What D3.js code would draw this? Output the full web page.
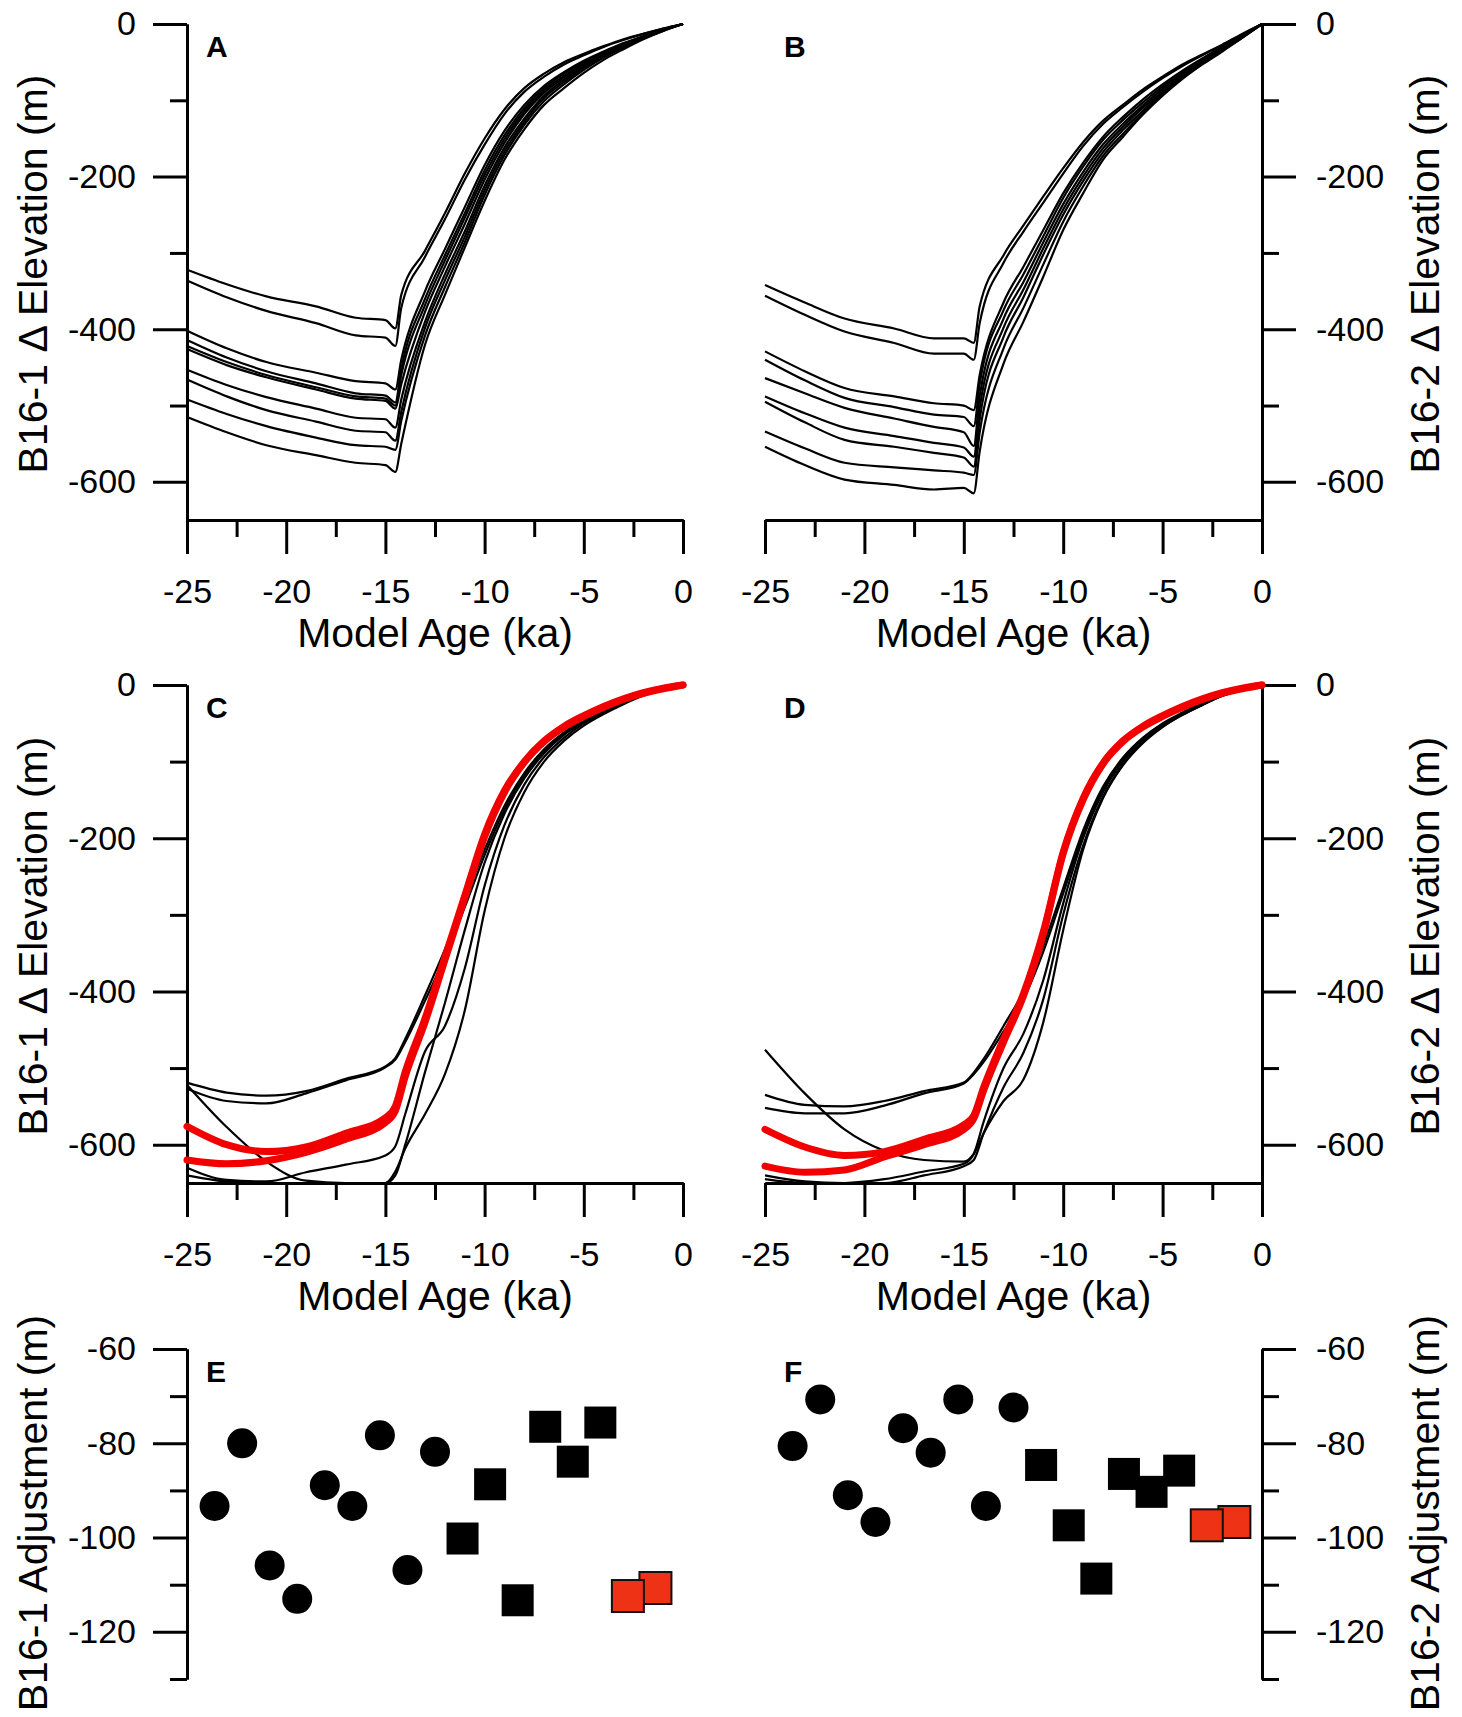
<!DOCTYPE html>
<html>
<head>
<meta charset="utf-8">
<script src="https://cdn.jsdelivr.net/npm/d3@7"></script>
<style>
    body { margin: 0; background: #fff; }
    svg { display: block; }
</style>
</head>
<body>
<svg id="chart" width="1462" height="1717"></svg>
<script>
// ---- tick values ----
const ageTicks = [-25, -20, -15, -10, -5, 0];
const ageMinorTicks = [-22.5, -17.5, -12.5, -7.5, -2.5];
const elevTicks = [0, -200, -400, -600];
const elevMinorTicks = [-100, -300, -500];
const adjTicks = [-60, -80, -100, -120];
const adjMinorTicks = [-70, -90, -110, -130];

// ---- panels A / B : model ages (ka) ----
const agesAB = [-25, -23, -21, -18.5, -16.5, -15, -14.5, -14.2, -13, -12, -11, -10, -9, -8, -7, -6, -5, -4, -3, -2, -1, 0];

// panel A, B16-1 delta elevation (m)
const a1 = [-322, -341, -357, -370, -385, -388, -399, -355, -297, -248, -196, -150, -112, -84, -65, -50, -39, -29, -20, -13, -6, 0];
const a2 = [-336, -358, -376, -392, -408, -411, -422, -372, -305, -256, -204, -158, -118, -89, -69, -53, -41, -30, -21, -13, -6, 0];
const a3 = [-402, -425, -443, -457, -468, -471, -479, -440, -350, -295, -240, -185, -140, -106, -81, -63, -48, -36, -25, -16, -7, 0];
const a4 = [-414, -437, -455, -471, -484, -487, -496, -452, -360, -303, -248, -192, -146, -110, -84, -65, -50, -37, -26, -16, -7, 0];
const a5 = [-422, -443, -460, -476, -488, -491, -500, -460, -368, -310, -254, -198, -151, -114, -87, -68, -52, -38, -27, -17, -8, 0];
const a6 = [-426, -447, -463, -479, -491, -494, -504, -472, -377, -318, -262, -204, -156, -118, -90, -70, -53, -39, -28, -17, -8, 0];
const a7 = [-453, -473, -489, -504, -516, -518, -529, -492, -390, -328, -272, -212, -162, -124, -94, -73, -55, -41, -29, -18, -8, 0];
const a8 = [-466, -488, -506, -521, -533, -535, -546, -508, -398, -336, -279, -218, -167, -128, -97, -76, -57, -42, -30, -19, -8, 0];
const a9 = [-492, -511, -527, -542, -552, -554, -558, -520, -408, -345, -286, -224, -172, -132, -101, -79, -60, -44, -31, -19, -9, 0];
const a10 = [-515, -535, -552, -565, -575, -578, -587, -550, -420, -355, -293, -232, -178, -138, -106, -84, -64, -47, -33, -20, -9, 0];

// panel B, B16-2 delta elevation (m)
const b1 = [-342, -365, -386, -399, -412, -412, -418, -370, -303, -264, -226, -189, -155, -127, -106, -86, -69, -53, -40, -27, -13, 0];
const b2 = [-356, -381, -403, -418, -432, -432, -440, -392, -313, -272, -234, -196, -160, -131, -109, -89, -71, -55, -41, -28, -14, 0];
const b3 = [-429, -455, -477, -488, -497, -500, -506, -460, -365, -318, -270, -222, -182, -148, -122, -99, -79, -61, -45, -30, -15, 0];
const b4 = [-440, -467, -490, -502, -512, -515, -527, -472, -375, -328, -278, -228, -187, -152, -126, -103, -82, -63, -46, -31, -16, 0];
const b5 = [-464, -484, -503, -517, -528, -535, -553, -488, -386, -338, -286, -236, -194, -158, -131, -107, -85, -65, -48, -33, -17, 0];
const b6 = [-488, -510, -529, -540, -549, -555, -567, -503, -398, -348, -294, -243, -200, -163, -135, -110, -88, -67, -50, -34, -17, 0];
const b7 = [-495, -522, -545, -554, -562, -568, -580, -518, -410, -358, -302, -250, -206, -168, -139, -114, -90, -69, -51, -34, -17, 0];
const b8 = [-534, -556, -575, -581, -585, -588, -591, -535, -425, -372, -315, -259, -213, -173, -144, -117, -92, -71, -52, -35, -18, 0];
const b9 = [-554, -578, -597, -604, -610, -608, -615, -560, -445, -390, -331, -270, -222, -178, -148, -119, -94, -72, -53, -36, -18, 0];

// ---- panels C / D ----
const agesCD = [-25, -23, -21, -19, -17, -15, -14.5, -14, -13, -12, -11, -10, -9, -8, -7, -6, -5, -4, -3, -2, -1, 0];

const c1 = [-519, -532, -536, -530, -514, -498, -487, -462, -405, -345, -280, -215, -158, -115, -84, -62, -45, -32, -21, -12, -5, 0];
const c2 = [-527, -543, -546, -533, -516, -499, -489, -466, -412, -355, -290, -222, -163, -118, -86, -63, -46, -33, -21, -12, -5, 0];
const c3 = [-522, -577, -622, -647, -650, -650, -640, -600, -505, -415, -320, -232, -168, -122, -89, -65, -48, -34, -22, -12, -5, 0];
const c4 = [-630, -646, -648, -636, -626, -614, -602, -560, -478, -445, -370, -262, -183, -130, -94, -69, -50, -36, -23, -13, -5, 0];
const c5 = [-640, -648, -650, -650, -650, -650, -635, -605, -560, -508, -425, -295, -200, -140, -100, -73, -53, -38, -25, -14, -6, 0];
const cRed1 = [-576, -600, -609, -603, -585, -565, -550, -505, -435, -355, -275, -195, -138, -100, -73, -54, -40, -28, -18, -10, -4, 0];
const cRed2 = [-620, -625, -621, -610, -593, -571, -556, -511, -440, -359, -278, -198, -140, -101, -74, -55, -41, -29, -19, -11, -5, 0];

const d1 = [-535, -548, -550, -543, -530, -519, -506, -488, -445, -400, -340, -265, -190, -133, -95, -69, -50, -36, -23, -13, -6, 0];
const d2 = [-552, -559, -559, -549, -533, -520, -508, -492, -452, -410, -348, -272, -195, -137, -97, -70, -51, -37, -24, -13, -6, 0];
const d3v = [-476, -533, -580, -608, -620, -622, -612, -585, -543, -515, -440, -320, -215, -148, -105, -76, -55, -39, -26, -14, -6, 0];
const d4 = [-640, -648, -650, -645, -635, -625, -612, -570, -500, -455, -385, -285, -200, -140, -100, -73, -53, -38, -25, -14, -6, 0];
const d5 = [-645, -650, -650, -650, -640, -628, -620, -585, -525, -480, -410, -300, -210, -146, -104, -75, -54, -39, -26, -14, -6, 0];
const dRed1 = [-580, -603, -614, -609, -593, -574, -562, -525, -462, -403, -322, -218, -148, -102, -73, -54, -40, -28, -18, -10, -4, 0];
const dRed2 = [-628, -636, -633, -616, -600, -580, -566, -529, -466, -406, -325, -220, -150, -103, -74, -55, -41, -29, -19, -11, -5, 0];

// ---- panels E / F : adjustments (m) ----
const sampleIndex = [1, 2, 3, 4, 5, 6, 7, 8, 9, 10, 11, 12, 13, 14, 15, 16, 17];
const sampleKind = ['circle', 'circle', 'circle', 'circle', 'circle', 'circle', 'circle', 'circle', 'circle',
    'square', 'square', 'square', 'square', 'square', 'square', 'red', 'red'];
const adjB161 = [-93.3, -80.0, -105.9, -113.0, -88.9, -93.3, -78.3, -106.9, -81.8, -100.2, -88.7, -113.3, -76.5, -83.9, -75.6, -112.4, -110.7];
const adjB162 = [-80.6, -70.7, -91.0, -96.7, -76.8, -82.0, -70.7, -93.3, -72.4, -84.6, -97.4, -108.7, -86.5, -90.3, -85.8, -97.4, -96.7];

const FONT = '"Liberation Sans", Arial, Helvetica, sans-serif';
const svg = d3.select('#chart');

function styleAxis(g, fontSize) {
    g.attr('font-family', FONT).attr('font-size', fontSize);
    g.selectAll('.domain').attr('stroke', '#000').attr('stroke-width', 3);
    g.selectAll('.tick line').attr('stroke', '#000').attr('stroke-width', 3);
    g.selectAll('.tick text').attr('fill', '#000');
}

function yAxisFor(side, scale) {
    return side === 'left' ? d3.axisLeft(scale) : d3.axisRight(scale);
}

class Panel {
    constructor(config) {
        this.config = config;
        this.init();
    }

    init() {
        let self = this;
        const c = self.config;
        self.chart = svg.append('g');
        self.yscale = d3.scaleLinear()
            .domain(c.ydomain)
            .range([c.bottom, c.top]);
        if (c.scatter) {
            self.xscale = d3.scaleLinear().domain([0, 18]).range([c.left, c.right]);
        } else {
            self.xscale = d3.scaleLinear().domain([-25, 0]).range([c.left, c.right]);
        }
    }

    render() {
        let self = this;
        const c = self.config;
        const axisX = c.side === 'left' ? c.left : c.right;

        // x axis (profile panels only)
        if (!c.scatter) {
            const xminor = d3.axisBottom(self.xscale)
                .tickValues(ageMinorTicks).tickSize(17).tickSizeOuter(0).tickFormat('');
            styleAxis(self.chart.append('g')
                .attr('transform', `translate(0, ${c.bottom})`).call(xminor), 34);

            const xaxis = d3.axisBottom(self.xscale)
                .tickValues(ageTicks).tickSize(34).tickPadding(25).tickSizeOuter(0)
                .tickFormat(d => String(d));
            styleAxis(self.chart.append('g')
                .attr('transform', `translate(0, ${c.bottom})`).call(xaxis), 34);

            self.chart.append('text')
                .attr('x', (c.left + c.right) / 2)
                .attr('y', c.bottom + 127)
                .attr('text-anchor', 'middle')
                .attr('font-family', FONT)
                .attr('font-size', 41)
                .text('Model Age (ka)');
        }

        // y axis
        const yminor = yAxisFor(c.side, self.yscale)
            .tickValues(c.minorTicks).tickSize(17).tickSizeOuter(0).tickFormat('');
        styleAxis(self.chart.append('g')
            .attr('transform', `translate(${axisX}, 0)`).call(yminor), 34);

        const yaxis = yAxisFor(c.side, self.yscale)
            .tickValues(c.ticks).tickSize(34).tickPadding(c.side === 'left' ? 17 : 20).tickSizeOuter(0)
            .tickFormat(d => String(d));
        styleAxis(self.chart.append('g')
            .attr('transform', `translate(${axisX}, 0)`).call(yaxis), 34);

        const titleX = c.side === 'left' ? 47 : 1439;
        self.chart.append('text')
            .attr('transform', `translate(${titleX}, ${c.titleY}) rotate(-90)`)
            .attr('text-anchor', 'middle')
            .attr('font-family', FONT)
            .attr('font-size', 41)
            .text(c.ytitle);

        // panel letter
        self.chart.append('text')
            .attr('x', c.left + 19)
            .attr('y', c.letterY)
            .attr('font-family', FONT)
            .attr('font-weight', 'bold')
            .attr('font-size', 30)
            .text(c.letter);

        if (c.scatter) self.drawPoints(); else self.drawLines();
    }

    drawLines() {
        let self = this;
        const c = self.config;
        const line = d3.line()
            .x((d, i) => self.xscale(c.ages[i]))
            .y(d => self.yscale(d))
            .curve(d3.curveMonotoneX);

        self.chart.append('g').selectAll('path')
            .data(c.black)
            .enter()
            .append('path')
            .attr('d', line)
            .attr('fill', 'none')
            .attr('stroke', '#000')
            .attr('stroke-width', 2.2)
            .attr('stroke-linejoin', 'round');

        self.chart.append('g').selectAll('path')
            .data(c.red || [])
            .enter()
            .append('path')
            .attr('d', line)
            .attr('fill', 'none')
            .attr('stroke', '#f20000')
            .attr('stroke-width', 7)
            .attr('stroke-linecap', 'round')
            .attr('stroke-linejoin', 'round');
    }

    drawPoints() {
        let self = this;
        const c = self.config;
        const pts = sampleIndex.map((s, i) => ({ s: s, v: c.values[i], k: sampleKind[i] }));
        const half = 16;

        self.chart.selectAll('circle.pt')
            .data(pts.filter(d => d.k === 'circle'))
            .enter()
            .append('circle')
            .attr('class', 'pt')
            .attr('cx', d => self.xscale(d.s))
            .attr('cy', d => self.yscale(d.v))
            .attr('r', 15)
            .attr('fill', '#000');

        self.chart.selectAll('rect.sq')
            .data(pts.filter(d => d.k === 'square'))
            .enter()
            .append('rect')
            .attr('class', 'sq')
            .attr('x', d => self.xscale(d.s) - half)
            .attr('y', d => self.yscale(d.v) - half)
            .attr('width', half * 2)
            .attr('height', half * 2)
            .attr('fill', '#000');

        // red ones: draw the later sample first so the earlier sits on top
        self.chart.selectAll('rect.red')
            .data(pts.filter(d => d.k === 'red').reverse())
            .enter()
            .append('rect')
            .attr('class', 'red')
            .attr('x', d => self.xscale(d.s) - half)
            .attr('y', d => self.yscale(d.v) - half)
            .attr('width', half * 2)
            .attr('height', half * 2)
            .attr('fill', '#ee3216')
            .attr('stroke', '#111')
            .attr('stroke-width', 2);
    }
}

const panels = [
    { letter: 'A', side: 'left', left: 187, right: 683, top: 24, bottom: 520, ydomain: [-650, 0],
      ticks: elevTicks, minorTicks: elevMinorTicks, ytitle: 'B16-1 \u0394 Elevation (m)', titleY: 274, letterY: 57,
      ages: agesAB, black: [a1, a2, a3, a4, a5, a6, a7, a8, a9, a10] },
    { letter: 'B', side: 'right', left: 765, right: 1262, top: 24, bottom: 520, ydomain: [-650, 0],
      ticks: elevTicks, minorTicks: elevMinorTicks, ytitle: 'B16-2 \u0394 Elevation (m)', titleY: 274, letterY: 57,
      ages: agesAB, black: [b1, b2, b3, b4, b5, b6, b7, b8, b9] },
    { letter: 'C', side: 'left', left: 187, right: 683, top: 685, bottom: 1183, ydomain: [-650, 0],
      ticks: elevTicks, minorTicks: elevMinorTicks, ytitle: 'B16-1 \u0394 Elevation (m)', titleY: 936, letterY: 718,
      ages: agesCD, black: [c1, c2, c3, c4, c5], red: [cRed1, cRed2] },
    { letter: 'D', side: 'right', left: 765, right: 1262, top: 685, bottom: 1183, ydomain: [-650, 0],
      ticks: elevTicks, minorTicks: elevMinorTicks, ytitle: 'B16-2 \u0394 Elevation (m)', titleY: 936, letterY: 718,
      ages: agesCD, black: [d1, d2, d3v, d4, d5], red: [dRed1, dRed2] },
    { letter: 'E', side: 'left', left: 187, right: 683, top: 1349, bottom: 1679, ydomain: [-130, -60],
      ticks: adjTicks, minorTicks: adjMinorTicks, ytitle: 'B16-1 Adjustment (m)', titleY: 1513, letterY: 1382,
      scatter: true, values: adjB161 },
    { letter: 'F', side: 'right', left: 765, right: 1262, top: 1349, bottom: 1679, ydomain: [-130, -60],
      ticks: adjTicks, minorTicks: adjMinorTicks, ytitle: 'B16-2 Adjustment (m)', titleY: 1513, letterY: 1382,
      scatter: true, values: adjB162 }
];

panels.forEach(cfg => {
    const p = new Panel(cfg);
    p.render();
});
</script>
</body>
</html>
